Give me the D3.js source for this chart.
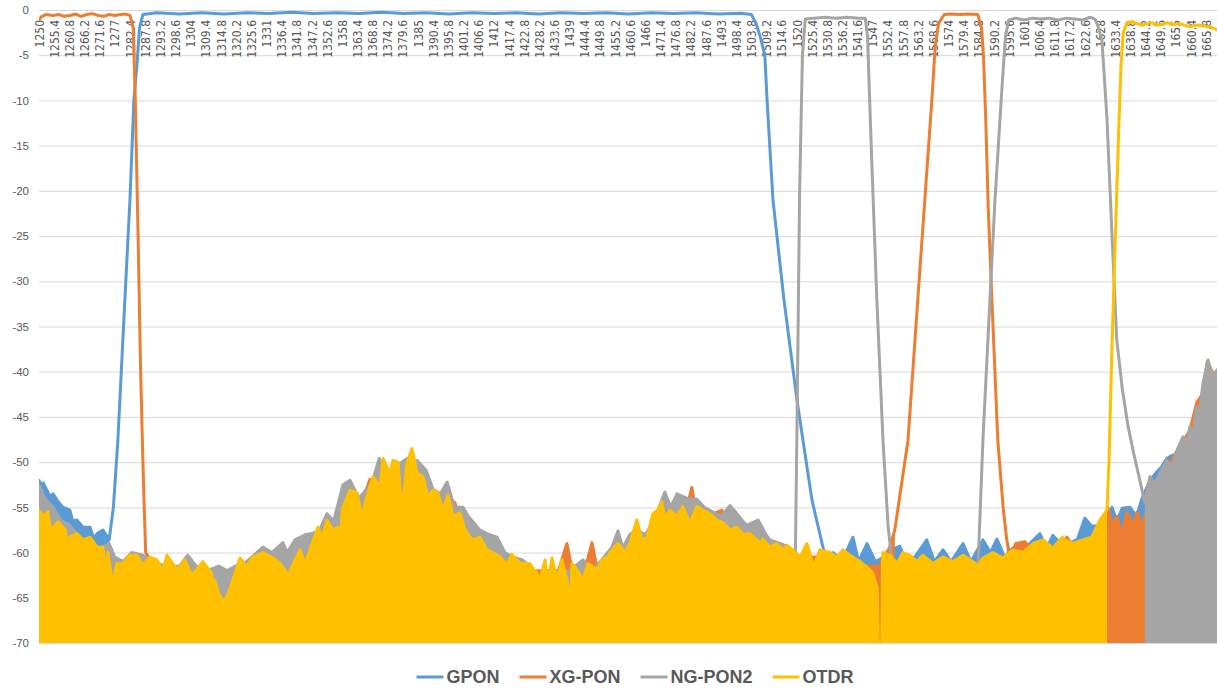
<!DOCTYPE html>
<html>
<head>
<meta charset="utf-8">
<script src="https://cdn.jsdelivr.net/npm/d3@7"></script>
<style>
  body { margin: 0; background: #fff; }
  svg { display: block; }
</style>
</head>
<body>
<div id="chart"></div>
<script>
// wavelength (nm) category labels shown along the top axis
const wlLabels = ["1250","1255.4","1260.8","1266.2","1271.6","1277","1282.4","1287.8","1293.2","1298.6",
  "1304","1309.4","1314.8","1320.2","1325.6","1331","1336.4","1341.8","1347.2","1352.6",
  "1358","1363.4","1368.8","1374.2","1379.6","1385","1390.4","1395.8","1401.2","1406.6",
  "1412","1417.4","1422.8","1428.2","1433.6","1439","1444.4","1449.8","1455.2","1460.6",
  "1466","1471.4","1476.8","1482.2","1487.6","1493","1498.4","1503.8","1509.2","1514.6",
  "1520","1525.4","1530.8","1536.2","1541.6","1547","1552.4","1557.8","1563.2","1568.6",
  "1574","1579.4","1584.8","1590.2","1595.6","1601","1606.4","1611.8","1617.2","1622.6",
  "1628","1633.4","1638.8","1644.2","1649.6","1655","1660.4","1665.8"];
const yTicks = [0,-5,-10,-15,-20,-25,-30,-35,-40,-45,-50,-55,-60,-65,-70];
const seriesNames = ["GPON","XG-PON","NG-PON2","OTDR"];

// traces: [wavelength, dB]; noise-floor parts are the upper envelope
const gponTrace = [[1250,-52],[1250.6,-52.5],[1251.5,-52.3],[1253.9,-53.8],[1255,-53.5],[1256.4,-54.2],[1258.6,-55],[1261,-55.3],[1262,-56.5],[1263.5,-56.4],[1265.7,-57.2],[1268.2,-57.2],[1269.5,-58.5],[1270.7,-57.9],[1272.8,-57.5],[1275,-58.6],
  [1276.5,-55],[1278.1,-47.6],[1280.6,-32],[1282.4,-21],[1283.8,-10],[1284.9,-6],[1285.8,-2],[1287,-0.5],
  [1292,-0.3],[1300,-0.45],[1308,-0.3],[1316,-0.45],[1324,-0.3],[1332,-0.4],[1340,-0.25],[1348,-0.4],[1356,-0.3],[1364,-0.4],[1372,-0.25],[1380,-0.4],[1388,-0.3],[1396,-0.45],[1404,-0.3],[1412,-0.4],[1420,-0.3],[1428,-0.45],[1436,-0.3],[1444,-0.4],[1452,-0.3],[1460,-0.45],[1468,-0.3],[1476,-0.4],[1484,-0.3],[1492,-0.45],[1500,-0.35],[1503.8,-0.5],
  [1505.5,-1.5],[1507,-3],[1508.6,-5],[1509.4,-10],[1511.5,-21],[1515.4,-32],[1520,-43],[1522.2,-47.6],[1525.4,-54.2],[1529.3,-59.4],
  [1531,-61],[1533,-60],[1536,-61],[1540,-58.3],[1542,-61],[1545,-59],[1548,-61],[1551,-60.5],[1553,-59.8],[1556.7,-59.3],[1559,-61],[1562,-60.5],[1566.3,-58.6],[1569,-61],[1572.1,-59.7],[1575,-61],[1579.2,-59],[1582,-61],[1586.3,-58.6],[1589,-60],[1591.3,-58.5],[1594,-60.5],[1597,-59.5],[1600,-60],[1603,-59],[1606.6,-57.9],[1609,-59.5],[1611.2,-58.1],[1614,-59],[1617,-59],[1620,-58.5],[1622.6,-56.2],[1625.1,-57.1],[1628,-57],[1630,-56.5],[1632.3,-55],[1634,-56.5],[1635.9,-55.1],[1638.7,-55],[1641,-56],[1643,-54],[1645.8,-52],[1648.5,-51],[1650,-50.5],[1651.8,-49.6],[1653.9,-49.2],[1655.4,-49.5],[1657.6,-48],[1660,-46.5],[1662.5,-44.5],[1664.7,-42],[1666.5,-40],[1669.7,-41]];
const gponNoise = [[1250,1275],[1529.3,1670]];

const xgponTrace = [[1250,-1.1],[1251,-0.7],[1252.5,-0.5],[1255,-0.6],[1257,-0.5],[1259,-0.7],[1261,-0.6],[1263,-0.45],[1265,-0.7],[1267,-0.5],[1269,-0.4],[1271,-0.6],[1273,-0.7],[1275,-0.5],[1277,-0.6],[1279,-0.5],[1281,-0.45],[1282.4,-0.6],
  [1283.6,-2],[1284.3,-10],[1285.3,-25],[1286.2,-40],[1287.2,-52],[1288,-60],
  [1290,-61],[1295,-61.5],[1300,-62],[1305,-62],[1310,-62.5],[1315,-63],[1320,-62],[1325,-61.5],[1330,-61],[1335,-62],[1340,-61.5],[1345,-60],[1350,-58.5],[1355,-58],[1360,-54.5],[1365,-54.5],[1367.9,-51.9],[1370,-53],[1374,-50.9],[1377,-51],[1380,-51.5],[1384,-51],[1387,-53],[1390,-54],[1394,-55.5],[1397.1,-54.2],[1398.2,-54.5],[1400,-56.5],[1405,-59],[1410,-60.3],[1415,-61],[1420,-61.5],[1425,-62],[1430,-62],[1435,-62],[1438.1,-59],[1440,-62],[1444,-62.5],[1447,-58.9],[1449,-62],[1455,-60.5],[1460,-60],[1465,-58.8],[1470,-56.5],[1475,-56],[1480,-56],[1482.6,-52.8],[1484,-55.5],[1488,-56],[1493.3,-55.3],[1495,-57.5],[1500,-58],[1502.6,-56.9],[1504,-57],[1507,-59.5],[1511,-60],[1515,-60.5],[1520,-61],[1524.7,-60.5],[1528,-60.5],[1532,-61],[1536,-60.5],[1540,-61.5],[1544,-61.5],[1547,-61.5],[1549.5,-61.5],[1551,-60.5],[1553,-59.5],[1554.9,-57.5],
  [1559.6,-47.6],[1563.1,-32],[1565.6,-21],[1568.1,-10],[1569.3,-4],[1570.5,-1.5],[1572.5,-0.5],[1575,-0.45],[1578,-0.5],[1581,-0.45],[1584.5,-0.5],
  [1585.8,-2],[1586.5,-5],[1587.3,-12],[1588.2,-22],[1589.5,-32],[1591.6,-47.6],[1593.5,-55],[1594.8,-58.6],
  [1596,-60.5],[1598,-59],[1601.3,-58.8],[1604,-60],[1607,-59.5],[1610,-60],[1613,-59.5],[1616.2,-58.3],[1619,-59.5],[1622,-59],[1624.5,-58.5],[1626.9,-57.5],[1629,-57.5],[1630.8,-55],[1632.5,-57],[1634,-56],[1635.8,-58],[1637.6,-55.5],[1639.7,-57],[1641.2,-55.5],[1642.9,-57],[1644,-56],[1646,-53.5],[1648,-52],[1652,-50.5],[1656,-48.5],[1660,-46.5],[1662.5,-43.4],[1664.5,-42.5],[1666.2,-38.9],[1668,-40],[1669.7,-40.5]];
const xgponNoise = [[1288,1554.9],[1594.8,1670]];

const ngpon2Trace = [[1250,-52.5],[1252,-54],[1255,-55],[1258,-56.5],[1261,-57],[1265,-58.5],[1268,-59],[1272,-59.5],[1275,-59],[1277,-60.5],[1280,-61],[1283,-60],[1287,-60.3],[1290,-61],[1295,-61.5],[1300,-61.5],[1303,-60.3],[1306,-61.5],[1310,-62],[1314,-61.5],[1317,-62],[1320,-61.5],[1324,-61],[1329.8,-59.4],[1333,-60],[1336.9,-58.9],[1338.4,-60],[1341.2,-58.6],[1345,-58],[1347.3,-57.9],[1350,-57.5],[1352.6,-55.7],[1355,-56.5],[1358.3,-52.5],[1360.8,-52],[1364,-54],[1368,-52.5],[1369.4,-51.5],[1371.2,-49.6],[1374,-51.5],[1377,-50.5],[1381.1,-49.6],[1383,-50.5],[1384.7,-49.8],[1387.9,-50.9],[1390.4,-53],[1393,-53.5],[1395.4,-52.2],[1398,-55],[1401.1,-55],[1403,-56],[1405.4,-56.9],[1407,-57.5],[1409.6,-57.9],[1413.2,-58.3],[1416,-60],[1418.9,-60.5],[1422.1,-60.8],[1425,-61.5],[1428,-63],[1431,-62],[1435,-62],[1439,-62],[1443.8,-60.8],[1447,-62],[1450,-61],[1454.1,-59.4],[1456.3,-57.6],[1458,-59.5],[1460.5,-58],[1463,-57.5],[1466,-58],[1469,-56.5],[1473,-53.3],[1475,-55],[1477.3,-53.5],[1480.9,-54],[1484.4,-54.1],[1487,-55],[1490,-55.5],[1493,-56],[1496.2,-54.8],[1498.7,-55.7],[1502,-57],[1506.2,-56.4],[1509,-58],[1510.4,-58.6],[1515,-59.1],[1517.5,-59.5],[1519.5,-60],
  [1520.1,-45],[1521,-20],[1522,-5],[1523,-1],[1526,-0.9],[1530,-0.8],[1534,-0.9],[1538,-0.8],[1542,-0.9],[1544.4,-0.9],
  [1545.2,-3],[1546.5,-15],[1548.5,-32],[1550.7,-47.6],[1552.5,-57],[1554.2,-62],
  [1556,-61.5],[1558,-60.8],[1560.9,-60.9],[1563,-61.5],[1566,-61.5],[1569,-61.5],[1572.1,-62],[1575,-61.5],[1578,-61.5],[1581,-61.5],[1584.5,-62],
  [1586.3,-47.6],[1588.8,-32],[1590.6,-21],[1592.8,-10],[1594.3,-3],[1595.5,-1.1],[1598,-0.9],[1601,-1.1],[1604,-0.9],[1607,-1],[1610,-0.9],[1613,-1.1],[1616,-0.9],[1619,-1],[1622,-1.1],[1624.5,-0.8],[1626.2,-1],
  [1627,-1.5],[1628.7,-3.3],[1630.5,-12],[1632.3,-25],[1634,-36.5],[1636,-42],[1638,-46],[1640,-49],[1642.2,-52],[1644,-54.5],
  [1645.8,-51.6],[1647.5,-52.5],[1649.4,-51.2],[1651.8,-49.8],[1653.5,-50.5],[1655.4,-48.7],[1657.6,-47.2],[1659,-48],[1660,-46.1],[1661.3,-46.5],[1662.5,-43.9],[1663.5,-44.5],[1664.7,-41.3],[1666.5,-38.7],[1668,-40.5],[1669.7,-39.8]];
const ngpon2Noise = [[1250,1519.5],[1554.2,1584.5],[1644,1670]];

const otdrTrace = [[1250,-55.3],[1251.4,-56],[1253.2,-55.5],[1254.6,-58.6],[1255,-57.2],[1256.8,-56.6],[1259.3,-57.5],[1260.5,-59.7],[1261,-58.3],[1263.5,-57.9],[1265.7,-58.6],[1268.2,-58.3],[1270.7,-59.4],[1272.8,-59.4],[1273.5,-62.3],[1274.5,-60],[1275.3,-61.6],[1276,-63.5],[1277.8,-61.2],[1279.9,-61.2],[1282.4,-60.3],[1284.9,-60.3],[1287,-61.4],[1289.5,-60.5],[1292,-60.8],[1294,-62],[1295.6,-60.3],[1299.2,-61.9],[1302,-60.8],[1304,-62.3],[1304.5,-70],[1305,-62.3],[1308.4,-61],[1311.5,-62.3],[1312,-70],[1312.5,-63],[1314,-64.5],[1316,-65.5],[1318,-64],[1319.1,-63],[1321.6,-60.6],[1324,-61.5],[1326.2,-60.5],[1329.8,-60],[1333.4,-60.6],[1335.9,-61.2],[1338.4,-62.3],[1339,-64],[1339.5,-62],[1341.2,-60.8],[1343,-59.7],[1344.8,-61.2],[1347.3,-59],[1349.4,-57.2],[1350.8,-58.3],[1352.6,-56.4],[1354.7,-57.5],[1356.5,-57.2],[1357.4,-57.3],[1357.6,-70],[1357.8,-56],[1358.3,-55],[1360.8,-53.1],[1363.3,-53.4],[1365.1,-56],[1366.8,-53.8],[1369,-51.6],[1371.5,-52.7],[1372.6,-49.6],[1375,-51.2],[1376.1,-49.8],[1377.9,-50],[1379.3,-55.3],[1381.1,-50.1],[1382.9,-48.5],[1384.7,-51.2],[1386.8,-51.6],[1388.6,-53.8],[1390.4,-53.1],[1392.1,-53.4],[1393.9,-55.3],[1395.7,-53.6],[1397.5,-56],[1400,-55.6],[1401.8,-57.5],[1404.4,-58.6],[1404.6,-70],[1404.8,-58.6],[1407.1,-58.3],[1409.6,-59.7],[1411.7,-60],[1414.2,-60.5],[1416.5,-61.2],[1416.7,-66.7],[1416.9,-61.2],[1418.5,-60.2],[1421.4,-61.2],[1424.9,-61.2],[1426.5,-62],[1426.7,-70],[1426.9,-62],[1428.5,-63],[1430.3,-60.8],[1431.3,-63.4],[1432.8,-60.6],[1434.5,-63],[1436.3,-60.8],[1438.1,-63],[1439.4,-65.7],[1439.9,-61.2],[1441.7,-61.9],[1443.8,-63],[1445.6,-61.2],[1448.8,-61.9],[1450.6,-60.8],[1452.4,-60.5],[1454.1,-59.7],[1456.3,-59],[1458.8,-60],[1460.5,-59],[1463,-56.4],[1464.8,-58.6],[1466.6,-58.3],[1468.7,-55.7],[1470.5,-55.3],[1471.9,-54.4],[1472.8,-56],[1473,-65.5],[1473.2,-56],[1474.8,-55.3],[1477.3,-56],[1479.4,-54.9],[1481.9,-56.7],[1484.4,-54.9],[1486.5,-55.3],[1489,-55.7],[1491.5,-56.4],[1493.7,-56.7],[1496.2,-57.5],[1498.7,-57.2],[1500.8,-58],[1503.3,-57.9],[1505.8,-58.6],[1507.4,-59],[1507.6,-70],[1507.8,-58.5],[1510.4,-59.4],[1512.9,-59],[1515,-59.7],[1516.5,-59.2],[1518.6,-59.7],[1521.1,-60.5],[1523.6,-59],[1525.7,-61.2],[1526.2,-63.8],[1526.7,-61],[1528.2,-59.7],[1531.8,-60],[1534.3,-60.5],[1536.4,-59.7],[1538.9,-60.3],[1542.5,-61],[1545,-61.6],[1547.1,-62.3],[1548.7,-64],[1549,-70],[1550.3,-70],[1550.5,-61],[1550.7,-60],[1553.2,-60.3],[1555.7,-61.2],[1557.8,-60],[1560.3,-60.3],[1562.8,-61],[1564.9,-60.3],[1568.5,-61.2],[1572.1,-60.5],[1575.6,-61],[1579.2,-60.3],[1582.7,-61],[1585,-61.5],[1585.2,-70],[1585.4,-61],[1586.3,-60.6],[1589.9,-60],[1593.4,-60.6],[1597,-59.7],[1600.6,-60],[1604.1,-59],[1607.7,-58.6],[1611.2,-59.5],[1614.6,-58.3],[1614.8,-70],[1615,-58.5],[1618.4,-59],[1621.9,-58.6],[1625.1,-58.3],[1628,-56.4],[1630.5,-55.3],
  [1631.2,-50],[1632.3,-37],[1633.5,-25],[1634.6,-14],[1635.5,-6],[1636.3,-2.5],[1637.6,-1.4],[1639.5,-1.3],[1641.2,-1.5],[1643,-1.7],[1644.8,-1.5],[1646.5,-1.4],[1648.3,-1.7],[1650,-1.6],[1651.9,-1.4],[1654,-1.6],[1656.5,-1.5],[1658.3,-1.7],[1660,-1.85],[1661.7,-1.7],[1663.4,-1.66],[1665.2,-1.8],[1667.1,-1.85],[1669.7,-2.2]];
const otdrNoise = [[1250,1630.5]];

const colors = ["#5b9bd5","#ed7d31","#a5a5a5","#ffc000"];
const traces = [gponTrace, xgponTrace, ngpon2Trace, otdrTrace];
const noiseSpans = [gponNoise, xgponNoise, ngpon2Noise, otdrNoise];

var W = 1217, H = 688;
var margin = {left: 39, right: 1217, top: 10, bottom: 643};

var svg = d3.select("#chart").append("svg")
    .attr("width", W).attr("height", H);

var x = d3.scaleLinear().domain([1250, 1669.7]).range([margin.left, margin.right]);
var y = d3.scaleLinear().domain([-70, 0]).range([margin.bottom, margin.top]);

svg.append("defs").append("clipPath").attr("id", "plot")
  .append("rect").attr("x", margin.left).attr("y", 0)
  .attr("width", margin.right - margin.left).attr("height", margin.bottom);

// horizontal gridlines + y labels
var yAxis = d3.axisLeft(y)
    .tickValues(yTicks)
    .tickSize(-(margin.right - margin.left))
    .tickPadding(10)
    .tickFormat(d => String(d));

var gy = svg.append("g")
    .attr("transform", "translate(" + margin.left + ",0)")
    .call(yAxis);
gy.select(".domain").remove();
gy.selectAll("line").attr("stroke", "#d9d9d9");
gy.selectAll("text")
    .attr("fill", "#595959")
    .style("font-family", "'Liberation Sans', Arial, sans-serif")
    .style("font-size", "11.5px");

// category labels hang under the 0 line, rotated
var xAxis = d3.axisBottom(x)
    .tickValues(wlLabels.map(Number))
    .tickSize(0)
    .tickFormat((d, i) => wlLabels[i]);

var gx = svg.append("g")
    .attr("transform", "translate(0," + y(0) + ")")
    .call(xAxis);
gx.select(".domain").attr("stroke", "#d9d9d9").attr("d", "M" + margin.left + ",0.5H" + margin.right);
gx.selectAll("text")
    .attr("transform", "rotate(-90)")
    .attr("x", -10)
    .attr("y", 0)
    .attr("dy", "0.35em")
    .style("text-anchor", "end")
    .attr("fill", "#595959")
    .style("font-family", "'Liberation Sans Narrow', 'DejaVu Sans Condensed', sans-serif")
    .style("font-size", "12px");

// series
var plot = svg.append("g").attr("clip-path", "url(#plot)");

traces.forEach(function(trace, i) {
  var spans = noiseSpans[i];
  var inNoise = d => spans.some(s => d[0] >= s[0] && d[0] <= s[1]);

  var area = d3.area()
      .defined(inNoise)
      .x(d => x(d[0]))
      .y0(y(-70))
      .y1(d => y(d[1]));

  var line = d3.line()
      .x(d => x(d[0]))
      .y(d => y(d[1]));

  plot.append("path")
      .datum(trace)
      .attr("d", area)
      .attr("fill", colors[i]);

  plot.append("path")
      .datum(trace)
      .attr("d", line)
      .attr("fill", "none")
      .attr("stroke", colors[i])
      .attr("stroke-width", 3)
      .attr("stroke-linejoin", "round")
      .attr("stroke-linecap", "round");
});

// legend
var legend = svg.append("g").attr("transform", "translate(0,677)");
var items = legend.selectAll("g").data(seriesNames).enter().append("g");
items.append("line")
    .attr("x1", 0).attr("x2", 27)
    .attr("stroke", (d, i) => colors[i])
    .attr("stroke-width", 3);
items.append("text")
    .attr("x", 30)
    .attr("dy", "0.36em")
    .attr("fill", "#595959")
    .style("font-family", "'Liberation Sans', Arial, sans-serif")
    .style("font-weight", "bold")
    .style("font-size", "18px")
    .text(d => d);

var widths = [];
items.select("text").each(function() { widths.push(30 + this.getComputedTextLength()); });
var gap = 20;
var total = d3.sum(widths) + gap * (widths.length - 1);
var pos = 635 - total / 2;
items.attr("transform", function(d, i) {
  var p = pos;
  pos += widths[i] + gap;
  return "translate(" + p + ",0)";
});
</script>
</body>
</html>
